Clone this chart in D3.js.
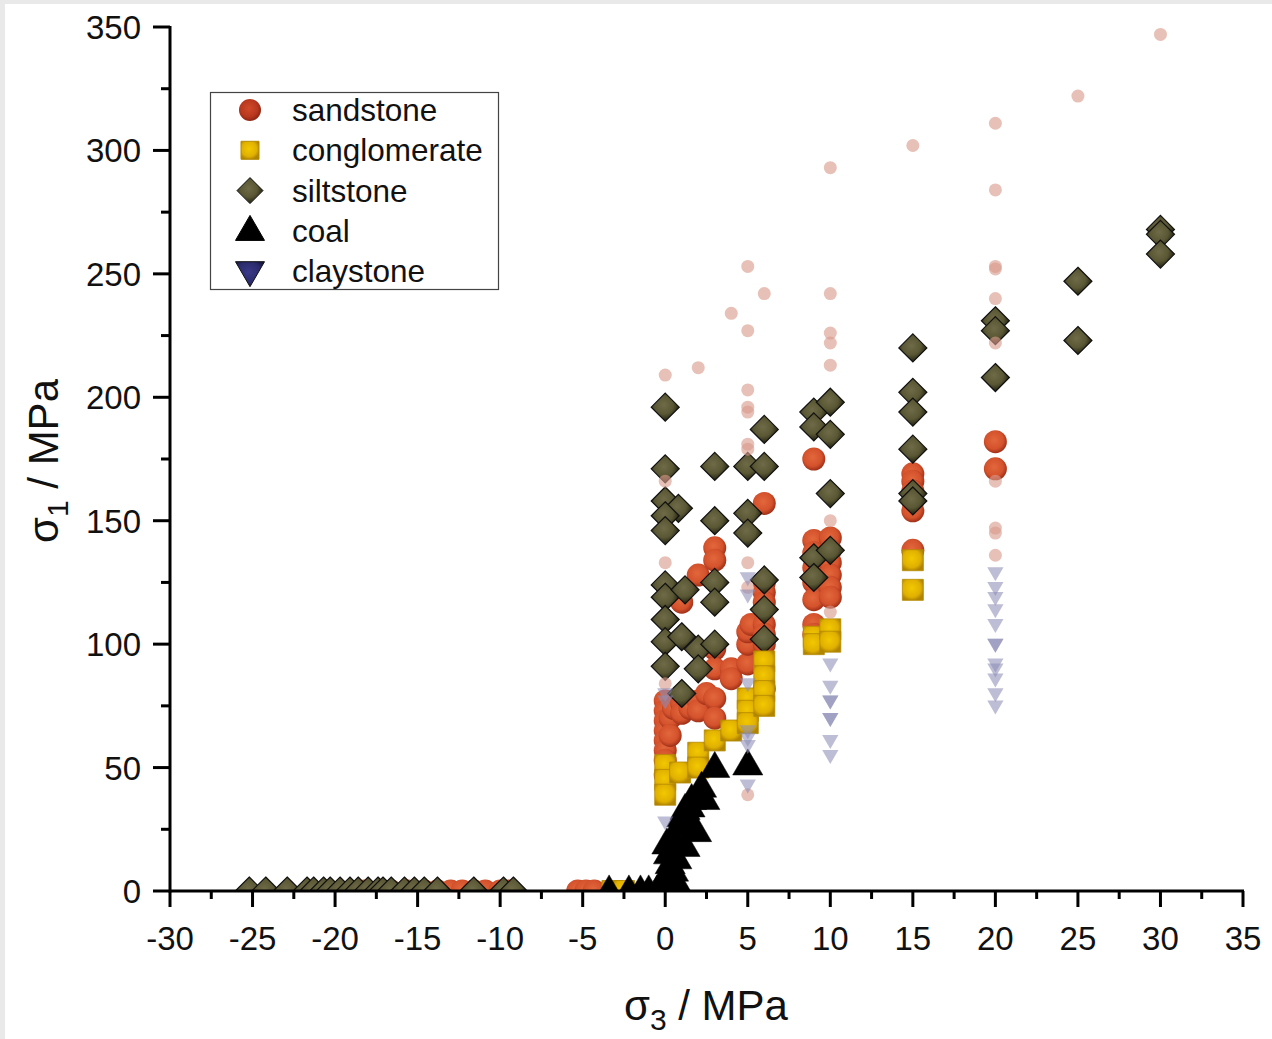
<!DOCTYPE html>
<html><head><meta charset="utf-8">
<script src="https://cdn.jsdelivr.net/npm/d3@7"></script>
<style>
html,body{margin:0;padding:0;background:#fff;}
svg{display:block;font-family:"Liberation Sans",Arial,sans-serif;}
</style></head>
<body>
<svg id="c" width="1272" height="1039"></svg>
<script>
// ---- data (σ3, σ1) in MPa ----
const xTicks = [-30,-25,-20,-15,-10,-5,0,5,10,15,20,25,30,35];
const yTicks = [0,50,100,150,200,250,300,350];
const seriesNames = ["sandstone","conglomerate","siltstone","coal","claystone"];

const sandstone = [
 [-18.2,0],[-17.3,0],[-16.6,0],[-15.6,0],[-14.6,0],[-13.8,0],[-13.0,0],[-12.3,0],[-11.6,0],[-10.9,0],[-10.0,0],[-9.5,0],
 [-5.3,0],[-4.8,0],[-4.3,0],
 [0,77],[0,73],[0,69],[0,65],[0,61],[0,57],[0,53],[0,47],[0.3,70],[0.3,63],[0.5,74],[1,76],[1,72],[1.5,74],[1,117],[2,128],[2,77],[2,73],[2.5,80],
 [3,139],[3,134],[3,98],[3,90],[3,78],[3,70],[4,90],[4,86],[5,92],[5,100],[5,105],[5.2,108],
 [6,157],[6,125],[6,121],[6,117],[6,108],[6,104],[6,100],[6,82],
 [9,175],[9,142],[9,137],[9,131],[9,125],[9,118],[9,108],[9,104],[10,143],[10,138],[10,133],[10,128],[10,123],[10,119],
 [15,169],[15,166],[15,162],[15,158],[15,154],[15,138],
 [20,182],[20,171]
];
const conglomerate = [
 [-3.2,0],[-2.5,0],
 [0,51],[0,45],[0,39],[0.9,48],[2,56],[2,50],[3,61],[4,65],[5,78],[5,73],[5,68],
 [6,93],[6,87],[6,81],[6,75],[9,103],[9,100],[10,106],[10,101],[15,134],[15,122]
];
const siltstone = [
 [-25.2,0],[-24.2,0],[-22.9,0],[-21.7,0],[-21.3,0],[-20.7,0],[-20.3,0],[-19.7,0],[-19.1,0],[-18.6,0],[-18,0],[-17.4,0],[-17.1,0],[-16.6,0],[-15.8,0],[-15.2,0],[-14.6,0],[-13.8,0],[-11.6,0],[-9.8,0],[-9.2,0],
 [0,196],[0,171],[0,158],[0.8,155],[0,152],[0,146],[0,124],[0,119],[0,110],[0,101],[0,91],
 [1,103],[1,80],[1.2,122],[2,98],[2,90],
 [3,172],[3,150],[3,125],[3,117],[3,100],
 [5,172],[5,153],[5,145],
 [6,187],[6,172],[6,126],[6,114],[6,102],
 [9,194],[9,188],[9,135],[9,127],
 [10,198],[10,185],[10,161],[10,138],
 [15,220],[15,202],[15,194],[15,179],[15,161],[15,158],
 [20,231],[20,227],[20,208],
 [25,247],[25,223],
 [30,268],[30,266],[30,258]
];
const coal = [
 [-3.4,0],[-2.2,0],[-1.5,0],[-1,0],[-0.5,0],[0,1],[0,3],[0.1,5],[0.2,8],[0.3,11],[0.2,15],[0.1,19],[0.5,21],[0.8,26],
 [1,30],[1.2,33],[1.5,34],[1.9,24],[1.6,37],[2.4,37],[2.2,42],[3,50],[5,51],[0.5,8],[0.7,13],[1.2,18],[1.4,28],[0.5,4],[0.8,2]
];
const sandstoneFaint = [
 [0,209],[2,212],[4,234],[5,253],[5,227],[5,203],[5,196],[5,194],[5,181],[5,179],[0,166],[0,133],[5,133],[5,123],[0,84],[5,39],
 [6,242],[10,293],[10,242],[10,226],[10,222],[10,213],[10,150],[10,113],[15,302],
 [20,311],[20,284],[20,253],[20,252],[20,240],[20,222],[20,166],[20,147],[20,145],[20,136],[25,322],[30,347]
];
const claystoneFaint = [
 [0,80],[0,77],[0,28],[5,127],[5,120],[5,84],[5,65],[5,62],[5,59],[5,43],
 [10,92],[10,83],[10,77],[10,77],[10,70],[10,70],[10,61],[10,55],
 [20,129],[20,123],[20,119],[20,114],[20,108],[20,100],[20,100],[20,92],[20,90],[20,86],[20,80],[20,75]
];

// ---- layout ----
const svg = d3.select("#c");
const L = 170, R = 1243, T = 27, B = 891;
const x = d3.scaleLinear().domain([-30,35]).range([L,R]);
const y = d3.scaleLinear().domain([0,350]).range([B,T]);

svg.append("rect").attr("x",0).attr("y",0).attr("width",1272).attr("height",4).attr("fill","#e9e9e9");
svg.append("rect").attr("x",0).attr("y",0).attr("width",5).attr("height",1039).attr("fill","#e9e9e9");

const defs = svg.append("defs");
function rg(id, stops){
  const g = defs.append("radialGradient").attr("id",id).attr("cx","45%").attr("cy","42%").attr("r","60%");
  stops.forEach(s=>g.append("stop").attr("offset",s[0]).attr("stop-color",s[1]));
}
rg("gSand",[["0%","#e2673c"],["65%","#d4522c"],["100%","#9a2c16"]]);
rg("gSandL",[["0%","#d04a2a"],["65%","#b8371e"],["100%","#8a2212"]]);
rg("gCong",[["0%","#f2c800"],["70%","#e0b000"],["100%","#b08400"]]);
rg("gSilt",[["0%","#6f6b48"],["55%","#5a5735"],["100%","#1a1a0c"]]);
rg("gClay",[["0%","#3a3a88"],["70%","#2a2a6c"],["100%","#15153c"]]);
defs.append("clipPath").attr("id","plotClip").append("rect")
  .attr("x",L).attr("y",0).attr("width",R-L+20).attr("height",B);

const shapes = {
  square: a => `M${-a},${-a}H${a}V${a}H${-a}Z`,
  diamond: h => `M0,${-h}L${h},0L0,${h}L${-h},0Z`,
  up: s => `M0,${-s*0.62}L${s*0.58},${s*0.38}L${-s*0.58},${s*0.38}Z`,
  down: s => `M0,${s*0.62}L${s*0.58},${-s*0.38}L${-s*0.58},${-s*0.38}Z`
};
function circ(r){return `M${-r},0A${r},${r} 0 1,0 ${r},0A${r},${r} 0 1,0 ${-r},0Z`;}

const plot = svg.append("g").attr("clip-path","url(#plotClip)");
function drawSeries(data, d, fill, stroke, sw, opacity){
  plot.append("g").selectAll("path").data(data).enter().append("path")
    .attr("d", d)
    .attr("transform", p=>`translate(${x(p[0])},${y(p[1])})`)
    .attr("fill", fill).attr("stroke", stroke).attr("stroke-width", sw)
    .attr("opacity", opacity);
}
drawSeries(sandstone, circ(11.5), "url(#gSand)", "none", 0, 1);
drawSeries(siltstone, shapes.diamond(14), "url(#gSilt)", "#111", 1.2, 1);
drawSeries(conglomerate, shapes.square(10.5), "url(#gCong)", "#b58a00", 0.8, 1);
drawSeries(coal, shapes.up(26), "#000", "#000", 0.5, 1);
drawSeries(sandstoneFaint, circ(6.5), "#d99a8a", "none", 0, 0.62);
drawSeries(claystoneFaint, shapes.down(14), "#8d8db6", "none", 0, 0.58);

// ---- axes ----
const xMinor = d3.range(-30,35.01,2.5).filter(v=>Math.abs(v%5)>0.01);
const yMinor = d3.range(25,350,50);
const ax = svg.append("g").attr("stroke","#000");
ax.append("line").attr("x1",L).attr("x2",R+1).attr("y1",B).attr("y2",B).attr("stroke-width",3);
ax.append("line").attr("x1",L).attr("x2",L).attr("y1",T-1).attr("y2",B+1.5).attr("stroke-width",3);
ax.selectAll(".xt").data(xTicks).enter().append("line")
  .attr("x1",d=>x(d)).attr("x2",d=>x(d)).attr("y1",B).attr("y2",B+16).attr("stroke-width",3);
ax.selectAll(".xm").data(xMinor).enter().append("line")
  .attr("x1",d=>x(d)).attr("x2",d=>x(d)).attr("y1",B).attr("y2",B+8).attr("stroke-width",3);
ax.selectAll(".yt").data(yTicks).enter().append("line")
  .attr("x1",L-17).attr("x2",L).attr("y1",d=>y(d)).attr("y2",d=>y(d)).attr("stroke-width",3);
ax.selectAll(".ym").data(yMinor).enter().append("line")
  .attr("x1",L-9).attr("x2",L).attr("y1",d=>y(d)).attr("y2",d=>y(d)).attr("stroke-width",3);

const lab = svg.append("g").attr("fill","#111").attr("font-size",33);
lab.selectAll(".xl").data(xTicks).enter().append("text")
  .attr("x",d=>x(d)).attr("y",950).attr("text-anchor","middle").text(d=>d);
lab.selectAll(".yl").data(yTicks).enter().append("text")
  .attr("x",141).attr("y",d=>y(d)+12).attr("text-anchor","end").text(d=>d);

const xt = svg.append("text").attr("x",706).attr("y",1020).attr("text-anchor","middle")
  .attr("font-size",42).attr("fill","#111");
xt.append("tspan").text("σ");
xt.append("tspan").attr("font-size",30).attr("dy",10).text("3");
xt.append("tspan").attr("dy",-10).text(" / MPa");
const yt = svg.append("text").attr("transform","translate(58,461) rotate(-90)").attr("text-anchor","middle")
  .attr("font-size",42).attr("fill","#111");
yt.append("tspan").text("σ");
yt.append("tspan").attr("font-size",30).attr("dy",10).text("1");
yt.append("tspan").attr("dy",-10).text(" / MPa");

// ---- legend ----
const lg = svg.append("g");
lg.append("rect").attr("x",210.5).attr("y",92.5).attr("width",288).attr("height",197)
  .attr("fill","#fff").attr("stroke","#444").attr("stroke-width",1.2);
const legMarks = [
  {d:circ(11), fill:"url(#gSandL)", stroke:"none"},
  {d:shapes.square(9), fill:"url(#gCong)", stroke:"#b58a00"},
  {d:shapes.diamond(13), fill:"url(#gSilt)", stroke:"#111"},
  {d:shapes.up(25), fill:"#000", stroke:"#000"},
  {d:shapes.down(25), fill:"url(#gClay)", stroke:"#111"}
];
seriesNames.forEach((n,i)=>{
  const cy = 110 + i*40.3;
  lg.append("path").attr("d",legMarks[i].d).attr("transform",`translate(250,${cy})`)
    .attr("fill",legMarks[i].fill).attr("stroke",legMarks[i].stroke).attr("stroke-width",1);
  lg.append("text").attr("x",292).attr("y",cy+11).attr("font-size",31.5).attr("fill","#111").text(n);
});
</script>
</body></html>
